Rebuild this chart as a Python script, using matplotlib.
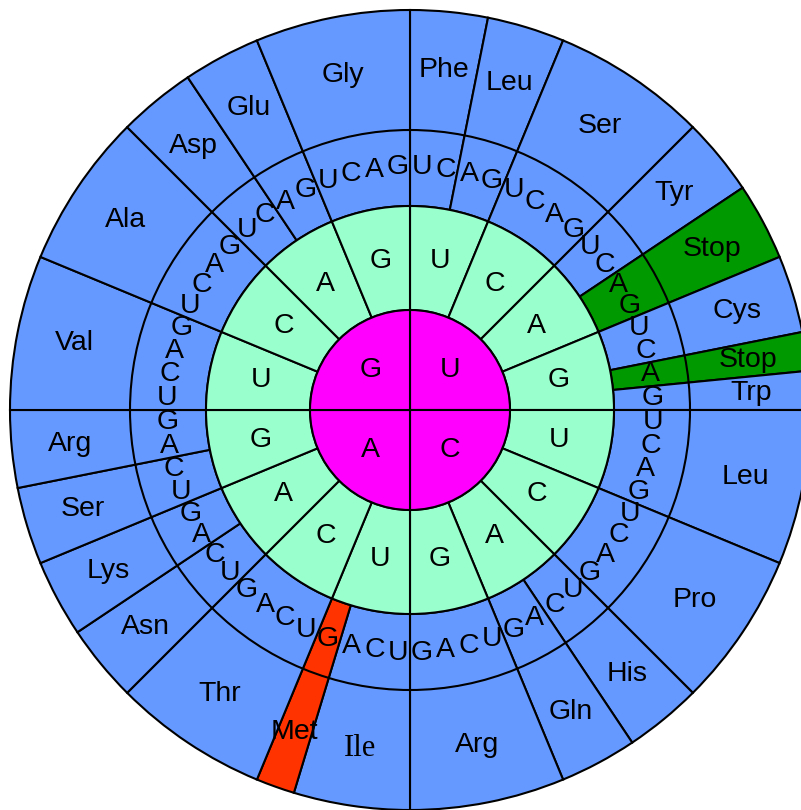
"""
Genetic code wheel - codon table drawn as concentric rings.
"""
import numpy as np
import matplotlib
matplotlib.use('Agg')
import matplotlib.pyplot as plt
from matplotlib.patches import Wedge, Circle

# Data
bases = ['U', 'C', 'A', 'G']
codon_aa = [
    'Phe', 'Phe', 'Leu', 'Leu', 'Ser', 'Ser', 'Ser', 'Ser',
    'Tyr', 'Tyr', 'Stop', 'Stop', 'Cys', 'Cys', 'Stop', 'Trp',
    'Leu', 'Leu', 'Leu', 'Leu', 'Pro', 'Pro', 'Pro', 'Pro',
    'His', 'His', 'Gln', 'Gln', 'Arg', 'Arg', 'Arg', 'Arg',
    'Ile', 'Ile', 'Ile', 'Met', 'Thr', 'Thr', 'Thr', 'Thr',
    'Asn', 'Asn', 'Lys', 'Lys', 'Ser', 'Ser', 'Arg', 'Arg',
    'Val', 'Val', 'Val', 'Val', 'Ala', 'Ala', 'Ala', 'Ala',
    'Asp', 'Asp', 'Glu', 'Glu', 'Gly', 'Gly', 'Gly', 'Gly',
]
special_colors = {'Stop': '#009900', 'Met': '#FF3300'}

BLUE = '#6699FF'
AQUA = '#99FFCC'
MAGENTA = '#FF00FF'

# ring radii (pixels)
R_IN = 100
R_MID = 204
R_THIRD = 280
R_OUT = 400
LW = 1.5
FS = 20.5

step = 360.0 / 64


def to_theta(a):
    # clockwise-from-top angle -> matplotlib angle
    return 90.0 - a


def polar(a, r):
    t = np.deg2rad(to_theta(a))
    return r * np.cos(t), r * np.sin(t)


def wedge(r, a1, a2, width, color):
    return Wedge((0, 0), r, to_theta(a2), to_theta(a1), width=width,
                 facecolor=color, edgecolor='black', linewidth=LW)


fig = plt.figure(figsize=(8.01, 8.10), dpi=100)
ax = fig.add_axes([0, 0, 1, 1])
ax.set_xlim(-410, 391)
ax.set_ylim(-400, 410)
ax.set_aspect('equal')
ax.axis('off')

# group consecutive codons with the same amino acid
groups = []
start = 0
for i in range(1, 65):
    if i == 64 or codon_aa[i] != codon_aa[start]:
        groups.append((codon_aa[start], start, i))
        start = i

# outer two rings (third base + amino acid)
for aa, i0, i1 in groups:
    color = special_colors.get(aa, BLUE)
    ax.add_patch(wedge(R_OUT, i0 * step, i1 * step, R_OUT - R_MID, color))
    mid = (i0 + i1) / 2 * step
    x, y = polar(mid, 342)
    if aa == 'Ile':
        ax.text(x, y, aa, ha='center', va='center', fontsize=FS + 1.5,
                family='Liberation Serif')
    else:
        ax.text(x, y, aa, ha='center', va='center', fontsize=FS,
                family='Liberation Sans')

ax.add_patch(Circle((0, 0), R_THIRD, fill=False, edgecolor='black', linewidth=LW))

# third base letters
for i in range(64):
    x, y = polar((i + 0.5) * step, 243)
    ax.text(x, y, bases[i % 4], ha='center', va='center', fontsize=FS,
            family='Liberation Sans')

# second base ring
for j in range(16):
    a1, a2 = j * 22.5, (j + 1) * 22.5
    ax.add_patch(wedge(R_MID, a1, a2, R_MID - R_IN, AQUA))
    x, y = polar((a1 + a2) / 2, 152)
    ax.text(x, y, bases[j % 4], ha='center', va='center', fontsize=FS,
            family='Liberation Sans')

# first base
for k in range(4):
    a1, a2 = k * 90, (k + 1) * 90
    ax.add_patch(wedge(R_IN, a1, a2, None, MAGENTA))
    x, y = polar((a1 + a2) / 2, 56)
    ax.text(x, y, bases[k], ha='center', va='center', fontsize=FS,
            family='Liberation Sans')

fig.savefig('out.png', dpi=100, facecolor='white')
